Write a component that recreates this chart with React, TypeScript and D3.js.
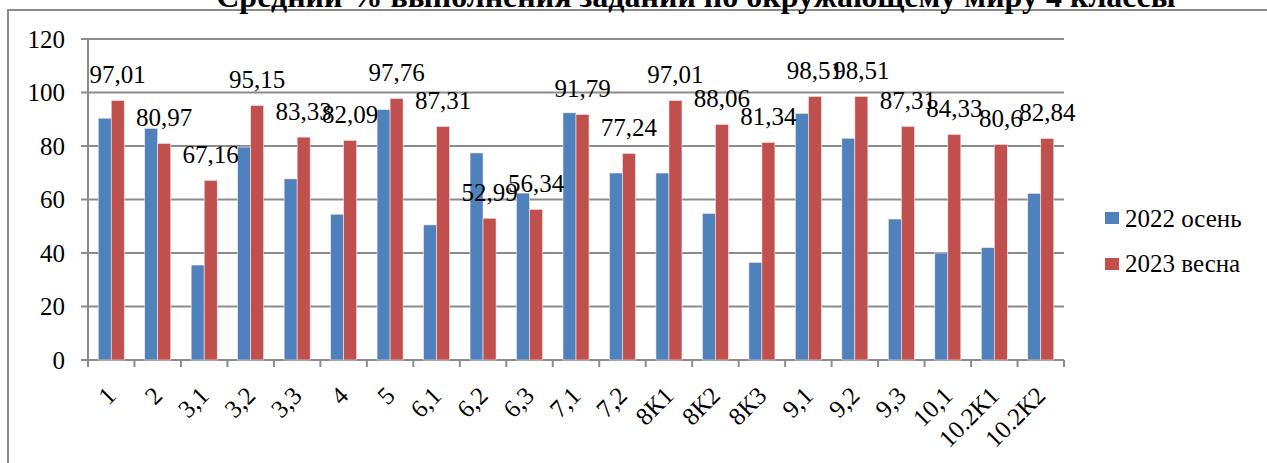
import React from "react";
import * as d3 from "d3";

const categories = ["1", "2", "3,1", "3,2", "3,3", "4", "5", "6,1", "6,2", "6,3", "7,1", "7,2", "8К1", "8К2", "8К3", "9,1", "9,2", "9,3", "10,1", "10.2К1", "10.2К2"];
const autumn2022 = [90.4, 86.6, 35.5, 79.6, 67.7, 54.5, 93.6, 50.5, 77.4, 62.4, 92.4, 69.9, 69.9, 54.8, 36.5, 92.2, 82.9, 52.7, 40.0, 42.0, 62.3];
const spring2023 = [97.01, 80.97, 67.16, 95.15, 83.33, 82.09, 97.76, 87.31, 52.99, 56.34, 91.79, 77.24, 97.01, 88.06, 81.34, 98.51, 98.51, 87.31, 84.33, 80.6, 82.84];
const seriesNames = ["2022 осень", "2023 весна"];
const yTicks = [0, 20, 40, 60, 80, 100, 120];
const title = "Средний % выполнения заданий по окружающему миру 4 классы";

const W = 1267;
const H = 463;
const FONT = '"Liberation Serif", "Times New Roman", "DejaVu Serif", serif';
const BLUE = "#4F81BD";
const RED = "#C0504D";
const GRID = "#8c8c8c";
const FS = 25;

export default function App() {
  const left = 88, right = 1064, top = 39, bottom = 360;
  const y = d3.scaleLinear().domain([0, 120]).range([bottom, top]);
  const pad = 0.44;
  const x = d3.scaleBand<string>().domain(categories).range([left, right]).paddingInner(pad).paddingOuter(pad / 2);
  const sub = d3.scaleBand<string>().domain(seriesNames).range([0, x.bandwidth()]);
  const step = x.step();
  const colors = [BLUE, RED];
  const series = [autumn2022, spring2023];
  const ts: React.CSSProperties = { fontFamily: FONT };

  return (
    <svg width={W} height={H} style={{ position: "absolute", left: 0, top: 0, background: "#fff", fontFamily: FONT }}>
      <rect x={0} y={0} width={W} height={H} fill="#fff" />
      <rect x={8} y={10} width={1400} height={600} fill="none" stroke={GRID} strokeWidth={2} />
      <text x={696} y={7} textAnchor="middle" fontWeight="bold" fontSize={32} style={ts}>{title}</text>

      {yTicks.map((t) => (
        <g key={t}>
          <line x1={left - 7} x2={right} y1={y(t)} y2={y(t)} stroke={GRID} strokeWidth={2} />
          <text x={65} y={y(t)} dy="0.35em" textAnchor="end" fontSize={FS} style={ts}>{t}</text>
        </g>
      ))}
      <line x1={left} x2={left} y1={top} y2={bottom} stroke={GRID} strokeWidth={2} />
      {d3.range(categories.length + 1).map((i) => (
        <line key={i} x1={left + i * step} x2={left + i * step} y1={bottom} y2={bottom + 7} stroke={GRID} strokeWidth={2} />
      ))}

      {series.map((vals, si) => (
        <g key={si}>
          {vals.map((v, i) => (
            <rect
              key={i}
              x={(x(categories[i]) ?? 0) + (sub(seriesNames[si]) ?? 0)}
              y={y(v)}
              width={sub.bandwidth()}
              height={y(0) - y(v)}
              fill={colors[si]}
              stroke="#fbe9e9"
              strokeWidth={0.6}
            />
          ))}
        </g>
      ))}

      {spring2023.map((v, i) => (
        <text
          key={i}
          x={(x(categories[i]) ?? 0) + (sub(seriesNames[1]) ?? 0) + sub.bandwidth() / 2}
          y={y(v) - 17}
          textAnchor="middle"
          fontSize={FS}
          style={ts}
        >
          {String(v).replace(".", ",")}
        </text>
      ))}

      {categories.map((c) => {
        const cx = (x(c) ?? 0) + x.bandwidth() / 2;
        return (
          <text key={c} transform={`translate(${cx},${bottom + 31}) rotate(-45)`} textAnchor="end" fontSize={FS} dy="0.35em" style={ts}>
            {c}
          </text>
        );
      })}

      {seriesNames.map((n, i) => (
        <g key={n}>
          <rect x={1105} y={212 + i * 46} width={14} height={12} fill={colors[i]} />
          <text x={1125} y={227 + i * 45} fontSize={FS} style={ts}>{n}</text>
        </g>
      ))}
    </svg>
  );
}
